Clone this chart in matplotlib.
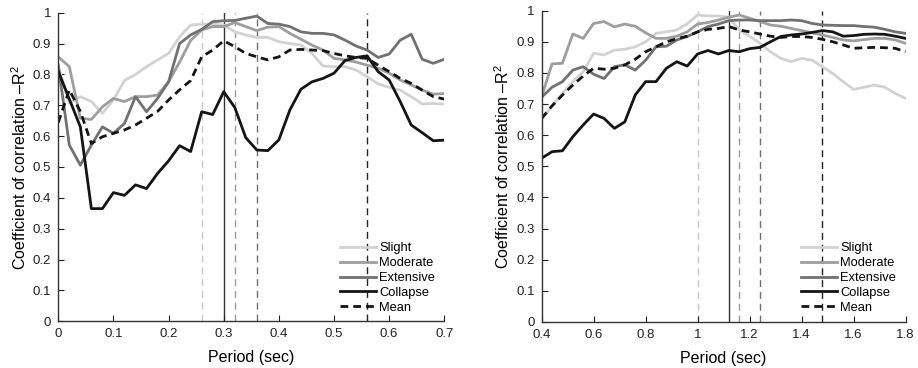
import matplotlib
matplotlib.use("Agg")
import matplotlib.pyplot as plt
import numpy as np

plt.rcParams['font.family'] = ['Liberation Sans', 'DejaVu Sans']
plt.rcParams['mathtext.fontset'] = 'custom'
plt.rcParams['mathtext.rm'] = 'Liberation Sans'
plt.rcParams['mathtext.it'] = 'Liberation Sans:italic'

# ---------------- Left panel data (period step 0.02 s) ----------------
periods_left = [round(0.02 * i, 2) for i in range(36)]
slight_left = [0.825, 0.706, 0.728, 0.712, 0.674, 0.717, 0.78, 0.80, 0.825, 0.847,
               0.868, 0.922, 0.96, 0.963, 0.963, 0.96, 0.938, 0.928, 0.92, 0.92,
               0.906, 0.90, 0.895, 0.868, 0.827, 0.825, 0.825, 0.814, 0.793, 0.769,
               0.758, 0.749, 0.728, 0.704, 0.706, 0.704]
moderate_left = [0.857, 0.825, 0.658, 0.654, 0.695, 0.722, 0.712, 0.728, 0.728, 0.733,
                 0.776, 0.84, 0.91, 0.944, 0.955, 0.955, 0.968, 0.955, 0.942, 0.953,
                 0.955, 0.933, 0.914, 0.895, 0.879, 0.852, 0.847, 0.84, 0.83, 0.82,
                 0.804, 0.782, 0.766, 0.749, 0.736, 0.738]
extensive_left = [0.83, 0.571, 0.506, 0.571, 0.63, 0.609, 0.641, 0.728, 0.679, 0.722,
                  0.776, 0.90, 0.928, 0.946, 0.971, 0.974, 0.975, 0.982, 0.989, 0.965,
                  0.963, 0.955, 0.938, 0.933, 0.933, 0.928, 0.911, 0.892, 0.879, 0.855,
                  0.866, 0.911, 0.93, 0.849, 0.836, 0.849]
collapse_left = [0.81, 0.72, 0.63, 0.365, 0.365, 0.417, 0.408, 0.442, 0.43, 0.479,
                 0.52, 0.569, 0.55, 0.679, 0.67, 0.744, 0.693, 0.595, 0.555, 0.553,
                 0.588, 0.685, 0.752, 0.776, 0.787, 0.804, 0.845, 0.855, 0.86, 0.809,
                 0.782, 0.712, 0.636, 0.611, 0.585, 0.587]
mean_left = [0.644, 0.75, 0.68, 0.576, 0.598, 0.609, 0.62, 0.636, 0.658, 0.68,
             0.717, 0.75, 0.78, 0.857, 0.879, 0.909, 0.89, 0.868, 0.857, 0.847,
             0.857, 0.879, 0.881, 0.879, 0.877, 0.868, 0.86, 0.855, 0.852, 0.83,
             0.809, 0.787, 0.771, 0.749, 0.728, 0.72]
vlines_left = [0.26, 0.30, 0.32, 0.36, 0.56]

# ---------------- Right panel data (period step 0.04 s) ----------------
periods_right = [round(0.4 + 0.04 * i, 2) for i in range(36)]
slight_right = [0.651, 0.694, 0.734, 0.772, 0.804, 0.863, 0.858, 0.873, 0.876, 0.884,
                0.90, 0.927, 0.932, 0.938, 0.958, 0.986, 0.983, 0.983, 0.979, 0.938,
                0.918, 0.895, 0.868, 0.847, 0.836, 0.847, 0.841, 0.82, 0.798, 0.772,
                0.747, 0.754, 0.761, 0.754, 0.734, 0.718]
moderate_right = [0.724, 0.829, 0.831, 0.925, 0.911, 0.959, 0.965, 0.948, 0.957, 0.95,
                  0.929, 0.911, 0.911, 0.918, 0.932, 0.957, 0.962, 0.97, 0.979, 0.986,
                  0.976, 0.965, 0.954, 0.95, 0.943, 0.936, 0.929, 0.922, 0.914, 0.906,
                  0.903, 0.907, 0.911, 0.911, 0.906, 0.895]
extensive_right = [0.722, 0.754, 0.772, 0.809, 0.82, 0.796, 0.782, 0.82, 0.826, 0.809,
                   0.841, 0.884, 0.886, 0.906, 0.917, 0.932, 0.949, 0.957, 0.968, 0.97,
                   0.97, 0.968, 0.968, 0.968, 0.97, 0.968, 0.959, 0.954, 0.953, 0.952,
                   0.952, 0.949, 0.947, 0.94, 0.932, 0.927]
collapse_right = [0.526, 0.547, 0.55, 0.595, 0.633, 0.668, 0.654, 0.622, 0.643, 0.729,
                  0.772, 0.772, 0.815, 0.836, 0.822, 0.861, 0.872, 0.861, 0.872, 0.868,
                  0.878, 0.882, 0.90, 0.917, 0.922, 0.925, 0.93, 0.936, 0.932, 0.918,
                  0.92, 0.924, 0.925, 0.924, 0.918, 0.911]
mean_right = [0.654, 0.694, 0.729, 0.761, 0.79, 0.815, 0.812, 0.815, 0.826, 0.844,
              0.868, 0.884, 0.90, 0.91, 0.918, 0.932, 0.94, 0.943, 0.949, 0.938,
              0.932, 0.925, 0.918, 0.914, 0.917, 0.917, 0.914, 0.908, 0.90, 0.89,
              0.879, 0.881, 0.882, 0.881, 0.879, 0.868]
vlines_right = [1.00, 1.12, 1.16, 1.24, 1.48]

labels = ['Slight', 'Moderate', 'Extensive', 'Collapse', 'Mean']
colors = ['#d2d2d2', '#9e9e9e', '#717171', '#141414', '#141414']
styles = ['-', '-', '-', '-', '--']
# vertical marker lines: (color, linestyle)
vdash = (0, (5, 3.5))
vstyles = [('#c8c8c8', vdash), ('#333333', '-'), ('#9a9a9a', vdash),
           ('#707070', vdash), ('#222222', vdash)]

fig = plt.figure(figsize=(9.18, 3.68), dpi=100)
ax1 = fig.add_axes([0.0635, 0.127, 0.4205, 0.8385])
ax2 = fig.add_axes([0.590, 0.125, 0.3965, 0.846])

def draw(ax, x, series, vlines, xlim, xticks, legend_anchor):
    for (c, ls), v in zip(vstyles, vlines):
        ax.axvline(v, color=c, linestyle=ls, linewidth=1.0, zorder=1)
    handles = []
    for s, lab, c, ls in zip(series, labels, colors, styles):
        h, = ax.plot(x, s, color=c, linestyle=ls, linewidth=2.0, label=lab, zorder=2)
        if ls == '--':
            h.set_dashes((2.8, 1.8))
        handles.append(h)
    ax.set_xlim(*xlim)
    ax.set_ylim(0, 1)
    ax.set_xticks(xticks)
    ax.set_xticklabels([('%g' % t) for t in xticks])
    yt = [round(0.1 * i, 1) for i in range(11)]
    ax.set_yticks(yt)
    ax.set_yticklabels([('%g' % t) for t in yt])
    for sp in ['top', 'right']:
        ax.spines[sp].set_visible(False)
    for sp in ['left', 'bottom']:
        ax.spines[sp].set_color('#333333')
        ax.spines[sp].set_linewidth(1.0)
    ax.tick_params(direction='in', length=4, labelsize=9.5, colors='#222222', pad=5)
    ax.set_xlabel('Period (sec)', fontsize=11.5, labelpad=7)
    ax.set_ylabel('Coefficient of correlation $\u2013$R$^2$', fontsize=11.5, labelpad=3)
    leg = ax.legend(handles=handles, loc='lower left', bbox_to_anchor=legend_anchor,
                    bbox_transform=fig.transFigure,
                    frameon=False, fontsize=9.3, handlelength=2.8, handletextpad=0.25,
                    labelspacing=0.22, borderaxespad=0, borderpad=0)
    return leg

draw(ax1, periods_left,
     [slight_left, moderate_left, extensive_left, collapse_left, mean_left],
     vlines_left, (0, 0.7), [0, 0.1, 0.2, 0.3, 0.4, 0.5, 0.6, 0.7], (0.3704, 0.147))
draw(ax2, periods_right,
     [slight_right, moderate_right, extensive_right, collapse_right, mean_right],
     vlines_right, (0.4, 1.8), [0.4, 0.6, 0.8, 1.0, 1.2, 1.4, 1.6, 1.8], (0.8722, 0.147))

fig.savefig('out.png', dpi=100)
